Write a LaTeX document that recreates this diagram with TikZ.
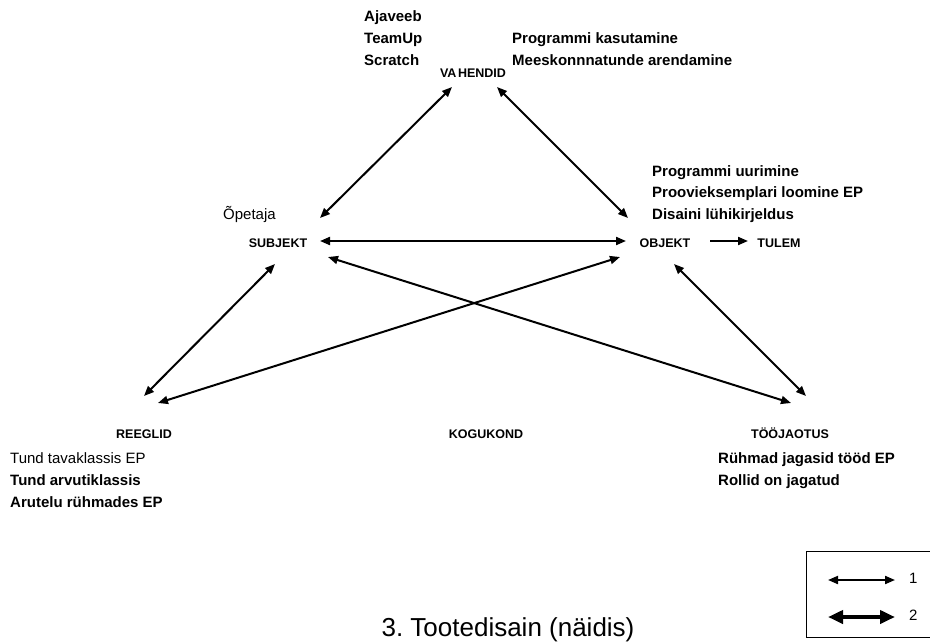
\documentclass[tikz,border=0pt]{standalone}
\usepackage{fontspec}
\setmainfont{Liberation Sans}
\usetikzlibrary{arrows.meta}
\frenchspacing
\begin{document}
\begin{tikzpicture}[x=1pt,y=-1pt,
  txt/.style={inner sep=0pt, anchor=base west, font=\fontsize{15}{18}\selectfont},
  btxt/.style={txt, font=\fontsize{15}{18}\selectfont\bfseries},
  role/.style={inner sep=0pt, anchor=base, font=\fontsize{12.5}{15}\selectfont\bfseries},
  link/.style={line width=2pt, {Triangle[length=10pt,width=8pt]}-{Triangle[length=10pt,width=8pt]}},
  onelink/.style={line width=2pt, -{Triangle[length=10pt,width=8pt]}},
  boldlink/.style={line width=3.8pt, {Triangle[length=15pt,width=13pt]}-{Triangle[length=15pt,width=13pt]}}]
\useasboundingbox (0,0) rectangle (930,641);

% activity system roles
\node[role] (vah) at (473,77.5) {VA\kern1.5pt HENDID};
\node[role] (subj) at (278,247) {SUBJEKT};
\node[role] (obj) at (665,247) {OBJEKT};
\node[role] (tul) at (779,247) {TULEM};
\node[role] (reeg) at (144,438.5) {REEGLID};
\node[role] (kog) at (486,438.5) {KOGUKOND};
\node[role] (too) at (790,438.5) {TÖÖJAOTUS};

% notes beside the roles
\node[btxt] (n1) at (364,21) {Ajaveeb};
\node[btxt] (n2) at (364,43) {TeamUp};
\node[btxt] (n3) at (364,65) {Scratch};
\node[btxt] (n4) at (512,43) {Programmi kasutamine};
\node[btxt] (n5) at (512,65) {Meeskonnnatunde arendamine};
\node[btxt] (n6) at (652,176) {Programmi uurimine};
\node[btxt] (n7) at (652,197.5) {Proovieksemplari loomine EP};
\node[btxt] (n8) at (652,219) {Disaini lühikirjeldus};
\node[txt] (n9) at (223,219) {Õpetaja};
\node[txt] (n10) at (10,463.5) {Tund tavaklassis EP};
\node[btxt] (n11) at (10,485.5) {Tund arvutiklassis};
\node[btxt] (n12) at (10,507.5) {Arutelu rühmades EP};
\node[btxt] (n13) at (718,463.5) {Rühmad jagasid tööd EP};
\node[btxt] (n14) at (718,485.5) {Rollid on jagatud};

% connector end points
\coordinate (vahL) at (452,87);
\coordinate (vahR) at (497,87);
\coordinate (subjU) at (320,218);
\coordinate (objU) at (628,218);
\coordinate (subjE) at (320,241);
\coordinate (objW) at (626,241);
\coordinate (objE) at (710,241);
\coordinate (tulW) at (748,241);
\coordinate (subjD) at (275,264);
\coordinate (subjDR) at (328,257);
\coordinate (objDL) at (620,257);
\coordinate (objD) at (674,264);
\coordinate (reegU) at (144,396);
\coordinate (reegUR) at (158,403);
\coordinate (tooUL) at (791,403);
\coordinate (tooU) at (806,396);

\draw[link] (vahL) -- (subjU);
\draw[link] (vahR) -- (objU);
\draw[link] (subjE) -- (objW);
\draw[onelink] (objE) -- (tulW);
\draw[link] (subjD) -- (reegU);
\draw[link] (objDL) -- (reegUR);
\draw[link] (subjDR) -- (tooUL);
\draw[link] (objD) -- (tooU);

% legend
\draw[line width=1.8pt] (940,551.5) -- (806.5,551.5) -- (806.5,637.5) -- (940,637.5);
\coordinate (l1a) at (828,580);
\coordinate (l1b) at (895,580);
\coordinate (l2a) at (828,617);
\coordinate (l2b) at (895,617);
\draw[link] (l1a) -- (l1b);
\draw[boldlink] (l2a) -- (l2b);
\node[txt] (k1) at (909,583.5) {1};
\node[txt] (k2) at (909,620.5) {2};

% caption
\node[inner sep=0pt, anchor=base, font=\fontsize{26}{30}\selectfont] (cap) at (508,636.5) {3. Tootedisain (näidis)};
\end{tikzpicture}
\end{document}
